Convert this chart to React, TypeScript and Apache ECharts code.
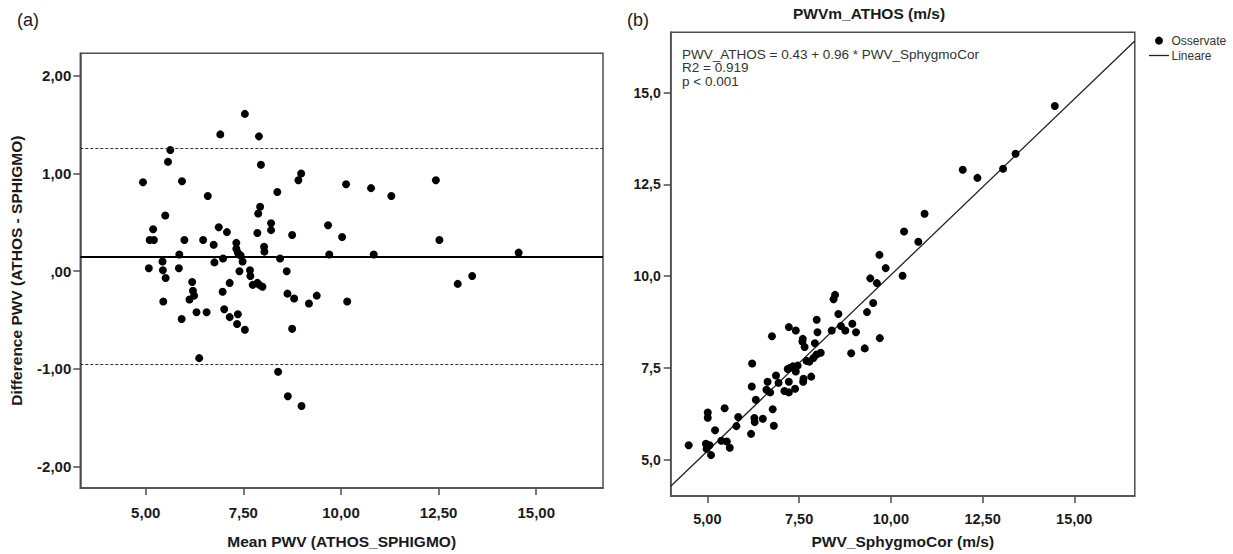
import React, { useEffect, useRef } from "react";
import * as echarts from "echarts";

// Panel (a): Bland-Altman
const baMean = [
  4.93, 5.08, 5.10, 5.21, 5.19, 5.43, 5.44, 5.51, 5.45, 5.50, 5.57, 5.63, 5.86, 5.85, 5.93, 5.99, 5.92,
  6.19, 6.21, 6.24, 6.12, 6.30, 6.37, 6.47, 6.59, 6.56, 6.74, 6.76, 6.87, 6.91, 6.98, 6.97, 7.01, 7.08,
  7.15, 7.15, 7.32, 7.32, 7.36, 7.36, 7.34, 7.40, 7.43, 7.48, 7.54, 7.54, 7.67, 7.68, 7.74, 7.86, 7.91,
  7.99, 7.86, 7.88, 7.93, 7.90, 7.95, 8.03, 8.04, 8.21, 8.21, 8.37, 8.44, 8.39, 8.61, 8.63, 8.64, 8.75,
  8.75, 8.80, 8.91, 8.98, 8.99, 9.18, 9.38, 9.67, 9.70, 10.03, 10.13, 10.16, 10.77, 10.84, 11.29, 12.43,
  12.52, 12.99, 13.36, 14.55,
];
const baDiff = [
  0.91, 0.03, 0.32, 0.32, 0.43, 0.10, 0.01, -0.07, -0.31, 0.57, 1.12, 1.24, 0.17, 0.03, 0.92, 0.32, -0.49,
  -0.11, -0.20, -0.25, -0.29, -0.42, -0.89, 0.32, 0.77, -0.42, 0.27, 0.09, 0.45, 1.40, 0.13, -0.21, -0.39, 0.40,
  -0.12, -0.47, 0.29, 0.23, 0.19, -0.44, -0.54, 0.00, 0.16, 0.10, 1.61, -0.60, 0.01, -0.05, -0.14, -0.12, -0.14,
  -0.16, 0.39, 0.59, 0.66, 1.38, 1.09, 0.25, 0.20, 0.49, 0.42, 0.81, 0.13, -1.03, 0.00, -0.23, -1.28, 0.37,
  -0.59, -0.28, 0.93, 1.00, -1.38, -0.33, -0.25, 0.47, 0.17, 0.35, 0.89, -0.31, 0.85, 0.17, 0.77, 0.93,
  0.32, -0.13, -0.05, 0.19,
];
const meanDiff = 0.153;
const upperLoA = 1.257;
const lowerLoA = -0.95;

// Panel (b): regression
const sphygmoCor = [
  4.49, 4.96, 4.98, 5.06, 5.10, 5.01, 5.01, 5.21, 5.38, 5.53, 5.61, 5.47, 5.79, 5.84, 6.19, 6.21, 6.22,
  6.28, 6.29, 6.32, 6.51, 6.64, 6.61, 6.71, 6.76, 6.78, 6.81, 6.87, 6.94, 7.10, 7.22, 7.22, 7.19, 7.26,
  7.33, 7.41, 7.39, 7.46, 7.22, 7.41, 7.59, 7.60, 7.65, 7.61, 7.62, 7.70, 7.78, 7.83, 7.89, 7.93, 7.97,
  7.98, 8.00, 8.09, 8.39, 8.44, 8.48, 8.57, 8.64, 8.76, 8.95, 8.92, 9.05, 9.29, 9.35, 9.44, 9.52, 9.62,
  9.69, 9.70, 9.86, 10.32, 10.36, 10.75, 10.92, 11.96, 12.36, 13.06, 13.40, 14.47,
];
const athosPwv = [
  5.39, 5.43, 5.29, 5.39, 5.12, 6.28, 6.14, 5.80, 5.51, 5.49, 5.32, 6.40, 5.91, 6.16, 5.70, 6.99, 7.62,
  6.13, 6.02, 6.63, 6.11, 7.12, 6.90, 6.83, 8.36, 6.37, 5.92, 7.29, 7.09, 6.87, 6.83, 7.12, 7.47, 7.50,
  7.54, 7.40, 6.93, 7.56, 8.61, 8.52, 8.22, 8.29, 8.07, 7.12, 7.20, 7.69, 7.67, 7.26, 7.77, 8.17, 7.86,
  8.81, 8.47, 7.91, 8.52, 9.37, 9.49, 8.97, 8.64, 8.52, 8.70, 7.90, 8.47, 8.03, 9.02, 9.94, 9.27, 9.81,
  10.58, 8.31, 10.22, 10.01, 11.22, 10.94, 11.70, 12.90, 12.68, 12.93, 13.34, 14.64,
];
const intercept = 0.43;
const slope = 0.96;

const leftXTicks = [5, 7.5, 10, 12.5, 15];
const leftYTicks = [-2, -1, 0, 1, 2];
const rightXTicks = [5, 7.5, 10, 12.5, 15];
const rightYTicks = [5, 7.5, 10, 12.5, 15];

const FONT = "'Liberation Sans', Arial, sans-serif";
const TXT = "#1a1a1a";
const FRAME = "#4d4d4d";

const comma = (v: number, d: number) => v.toFixed(d).replace(".", ",");

export default function App() {
  const ref = useRef<HTMLDivElement>(null);

  useEffect(() => {
    if (!ref.current) return;
    const chart = echarts.init(ref.current, undefined, { renderer: "svg" });

    const lxMin = 3.325, lxMax = 16.71, lyMin = -2.219, lyMax = 2.23;
    const rxMin = 4.0, rxMax = 16.65, ryMin = 4.005, ryMax = 16.65;

    const axisCommon = (ticks: number[], fmt: (v: number) => string, fs: number, margin: number) => ({
      axisLine: { show: true, onZero: false, lineStyle: { color: FRAME, width: 1.5 } },
      axisTick: { show: true, length: 7, customValues: ticks, lineStyle: { color: FRAME, width: 1.5 } },
      axisLabel: {
        customValues: ticks,
        formatter: (v: number) => fmt(v),
        fontFamily: FONT,
        fontWeight: "bold",
        fontSize: fs,
        color: TXT,
        margin,
      },
      splitLine: { show: false },
      nameTextStyle: { fontFamily: FONT, fontWeight: "bold", fontSize: 15.5, color: TXT },
    });

    const option: any = {
      animation: false,
      backgroundColor: "#ffffff",
      grid: [
        { left: 80.3, top: 53.3, width: 522.7, height: 439, show: true, borderColor: FRAME, borderWidth: 1.5, backgroundColor: "transparent", containLabel: false },
        { left: 670.7, top: 32.3, width: 464.1, height: 465, show: true, borderColor: FRAME, borderWidth: 1.5, backgroundColor: "transparent", containLabel: false },
      ],
      xAxis: [
        {
          type: "value", gridIndex: 0, min: lxMin, max: lxMax,
          name: "Mean PWV (ATHOS_SPHIGMO)", nameLocation: "middle", nameGap: 45,
          ...axisCommon(leftXTicks, (v) => comma(v, 2), 15, 17),
        },
        {
          type: "value", gridIndex: 1, min: rxMin, max: rxMax,
          name: "PWV_SphygmoCor (m/s)", nameLocation: "middle", nameGap: 37,
          ...axisCommon(rightXTicks, (v) => comma(v, 2), 14.5, 15),
        },
      ],
      yAxis: [
        {
          type: "value", gridIndex: 0, min: lyMin, max: lyMax,
          name: "Difference PWV (ATHOS - SPHIGMO)", nameLocation: "middle", nameGap: 56,
          ...axisCommon(leftYTicks, (v) => (Math.abs(v) < 1e-9 ? ",00" : comma(v, 2)), 15, 9),
        },
        {
          type: "value", gridIndex: 1, min: ryMin, max: ryMax,
          ...axisCommon(rightYTicks, (v) => comma(v, 1), 14, 10),
        },
      ],
      series: [
        {
          type: "scatter",
          xAxisIndex: 0,
          yAxisIndex: 0,
          symbol: "circle",
          symbolSize: 8,
          itemStyle: { color: "#000", opacity: 1 },
          data: baMean.map((x, i) => [x, baDiff[i]]),
          markLine: {
            silent: true,
            symbol: "none",
            animation: false,
            label: { show: false },
            data: [
              { yAxis: meanDiff, lineStyle: { color: "#000", width: 2, type: "solid" } },
              { yAxis: upperLoA, lineStyle: { color: "#333", width: 1, type: [3, 2] } },
              { yAxis: lowerLoA, lineStyle: { color: "#333", width: 1, type: [3, 2] } },
            ],
          },
          z: 3,
        },
        {
          type: "line",
          xAxisIndex: 1,
          yAxisIndex: 1,
          showSymbol: false,
          silent: true,
          lineStyle: { color: "#222", width: 1.3 },
          data: [
            [rxMin, intercept + slope * rxMin],
            [rxMax, intercept + slope * rxMax],
          ],
          z: 2,
        },
        {
          type: "scatter",
          xAxisIndex: 1,
          yAxisIndex: 1,
          symbol: "circle",
          symbolSize: 8,
          itemStyle: { color: "#000", opacity: 1 },
          data: sphygmoCor.map((x, i) => [x, athosPwv[i]]),
          z: 3,
        },
      ],
      graphic: [
        { type: "text", left: 17, top: 11, style: { text: "(a)", fontFamily: FONT, fontSize: 18, fill: TXT } },
        { type: "text", left: 627, top: 11, style: { text: "(b)", fontFamily: FONT, fontSize: 18, fill: TXT } },
        {
          type: "text", x: 869, y: 13,
          style: { text: "PWVm_ATHOS (m/s)", fontFamily: FONT, fontSize: 15.5, fontWeight: "bold", fill: TXT, align: "center", verticalAlign: "middle" },
        },
        {
          type: "text", x: 682, y: 54,
          style: { text: "PWV_ATHOS = 0.43 + 0.96 * PWV_SphygmoCor", fontFamily: FONT, fontSize: 13.5, fill: "#333", align: "left", verticalAlign: "middle" },
        },
        {
          type: "text", x: 682, y: 67,
          style: { text: "R2 = 0.919", fontFamily: FONT, fontSize: 13.5, fill: "#333", align: "left", verticalAlign: "middle" },
        },
        {
          type: "text", x: 682, y: 81,
          style: { text: "p < 0.001", fontFamily: FONT, fontSize: 13.5, fill: "#333", align: "left", verticalAlign: "middle" },
        },
        { type: "circle", shape: { cx: 1159, cy: 40.6, r: 4 }, style: { fill: "#000" } },
        {
          type: "text", x: 1171.5, y: 40.6,
          style: { text: "Osservate", fontFamily: FONT, fontSize: 12, fill: "#333", align: "left", verticalAlign: "middle" },
        },
        { type: "line", shape: { x1: 1149, y1: 55.5, x2: 1169, y2: 55.5 }, style: { stroke: "#222", lineWidth: 1.3 } },
        {
          type: "text", x: 1171.5, y: 55.5,
          style: { text: "Lineare", fontFamily: FONT, fontSize: 12, fill: "#333", align: "left", verticalAlign: "middle" },
        },
      ],
    };

    chart.setOption(option);
    return () => chart.dispose();
  }, []);

  return (
    <div
      ref={ref}
      style={{ position: "fixed", left: 0, top: 0, width: 1233, height: 554, background: "#fff" }}
    />
  );
}
